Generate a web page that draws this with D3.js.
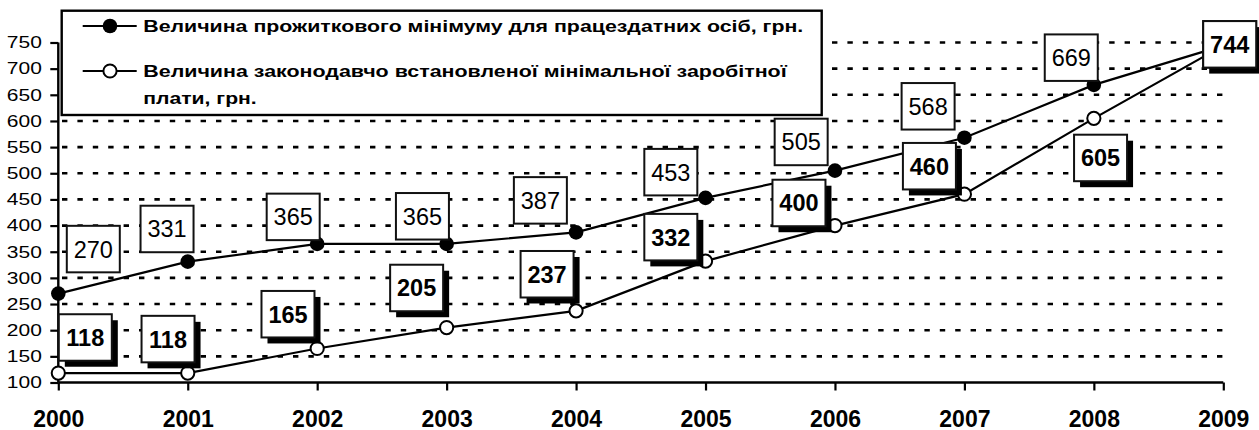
<!DOCTYPE html>
<html>
<head>
<meta charset="utf-8">
<script src="https://cdn.jsdelivr.net/npm/d3@7"></script>
<style>
  body { margin: 0; background: #fff; }
  text { font-family: Arial, "Liberation Sans", sans-serif; }
</style>
</head>
<body>
<svg id="chart" width="1259" height="430"></svg>
<script>
// data
const years = ["2000", "2001", "2002", "2003", "2004", "2005", "2006", "2007", "2008", "2009"];
const livingMin = [270, 331, 365, 365, 387, 453, 505, 568, 669, 744];
const minWage = [118, 118, 165, 205, 237, 332, 400, 460, 605, 744];
const yTicks = [100, 150, 200, 250, 300, 350, 400, 450, 500, 550, 600, 650, 700, 750];
const legendA = "Величина прожиткового мінімуму для працездатних осіб, грн.";
const legendB1 = "Величина законодавчо встановленої мінімальної заробітної";
const legendB2 = "плати, грн.";

// label offsets (box centre relative to point)
const offA = [[35, -44.5], [-20.7, -32.7], [-24, -27], [-24.2, -27.6], [-35.7, -32], [-34.7, -25.7], [-33.8, -28.7], [-36.3, -31.4], [-22.6, -27.2], [6.4, -1.3]];
const offB = [[27, -35.6], [-19.7, -34], [-29.2, -34.3], [-30, -39.6], [-29, -36.6], [-34.7, -24], [-36, -22.6], [-35, -28], [6.7, 39.6], [6.4, -1.3]];

const svg = d3.select("#chart");

const x = d3.scalePoint().domain(years).range([58.3, 1223.3]);
const y = d3.scaleLinear().domain([100, 750]).range([382.5, 42.5]);

// grid
svg.append("g").selectAll("line")
  .data(yTicks.filter(d => d > 100))
  .enter().append("line")
  .attr("x1", 60).attr("x2", 1223)
  .attr("y1", d => y(d)).attr("y2", d => y(d))
  .attr("stroke", "#000").attr("stroke-width", 2.6)
  .attr("stroke-dasharray", "5.4,10")
  .attr("stroke-dashoffset", -2);

// y axis
const gy = svg.append("g").attr("transform", "translate(58.3,0)")
  .call(d3.axisLeft(y).tickValues(yTicks).tickSize(8).tickPadding(8.5));
gy.select(".domain").attr("stroke-width", 2.4).attr("d", `M0,${y(750)}V${y(100)}`);
gy.selectAll(".tick line").attr("stroke-width", 2.2);
gy.selectAll(".tick text")
  .attr("font-size", 16.5).attr("fill", "#000")
  .attr("font-family", "Arial, 'Liberation Sans', sans-serif")
  .attr("textLength", 35).attr("lengthAdjust", "spacingAndGlyphs");

// x axis
const gx = svg.append("g").attr("transform", `translate(0,${y(100)})`)
  .call(d3.axisBottom(x).tickSize(8));
gx.select(".domain").attr("stroke-width", 2.4).attr("d", `M${x("2000")},0H${x("2009")}`);
gx.selectAll(".tick line").attr("stroke-width", 2.2);
gx.selectAll(".tick text")
  .attr("font-size", 23).attr("font-weight", "bold").attr("fill", "#000")
  .attr("font-family", "Arial, 'Liberation Sans', sans-serif")
  .attr("y", 44).attr("dy", null);

// lines
const line = d3.line().x((d, i) => x(years[i])).y(d => y(d));
[livingMin, minWage].forEach(s => {
  svg.append("path").datum(s).attr("d", line)
    .attr("fill", "none").attr("stroke", "#000").attr("stroke-width", 2.2);
});

// markers
svg.append("g").selectAll("circle").data(livingMin).enter().append("circle")
  .attr("cx", (d, i) => x(years[i])).attr("cy", d => y(d)).attr("r", 7.3)
  .attr("fill", "#000");
svg.append("g").selectAll("circle").data(minWage).enter().append("circle")
  .attr("cx", (d, i) => x(years[i])).attr("cy", d => y(d)).attr("r", 6.6)
  .attr("fill", "#fff").attr("stroke", "#000").attr("stroke-width", 2);

// labels
const bw = 53, bh = 46.5;
function labels(series, off, bold) {
  const g = svg.append("g").selectAll("g").data(series).enter().append("g")
    .attr("transform", (d, i) => `translate(${x(years[i]) + off[i][0]},${y(d) + off[i][1]})`);
  if (bold) {
    g.append("rect").attr("x", -bw / 2 + 6).attr("y", -bh / 2 + 6)
      .attr("width", bw).attr("height", bh).attr("fill", "#000");
  }
  g.append("rect").attr("x", -bw / 2).attr("y", -bh / 2)
    .attr("width", bw).attr("height", bh)
    .attr("fill", "#fff").attr("stroke", "#111").attr("stroke-width", 2);
  g.append("text").attr("text-anchor", "middle").attr("y", 8.5)
    .attr("font-size", 23.5).attr("font-weight", bold ? "bold" : "normal")
    .text(d => d);
}
labels(livingMin, offA, false);
labels(minWage, offB, true);

// legend
const lg = svg.append("g");
lg.append("rect").attr("x", 61.7).attr("y", 10.7).attr("width", 760).attr("height", 104.3)
  .attr("fill", "#fff").attr("stroke", "#000").attr("stroke-width", 2.4);
const items = [{ y: 26, filled: true }, { y: 71, filled: false }];
items.forEach(it => {
  lg.append("line").attr("x1", 82.7).attr("x2", 136.7).attr("y1", it.y).attr("y2", it.y)
    .attr("stroke", "#000").attr("stroke-width", 2.2);
  lg.append("circle").attr("cx", 110).attr("cy", it.y).attr("r", it.filled ? 7.3 : 6.6)
    .attr("fill", it.filled ? "#000" : "#fff").attr("stroke", "#000").attr("stroke-width", it.filled ? 0 : 2);
});
const legendText = [[legendA, 32.3, 660], [legendB1, 76.5, 643.4], [legendB2, 103.5, 113.4]];
legendText.forEach(t => {
  lg.append("text").attr("x", 143.3).attr("y", t[1])
    .attr("font-size", 16.5).attr("font-weight", "bold")
    .attr("textLength", t[2]).attr("lengthAdjust", "spacingAndGlyphs")
    .text(t[0]);
});
</script>
</body>
</html>
